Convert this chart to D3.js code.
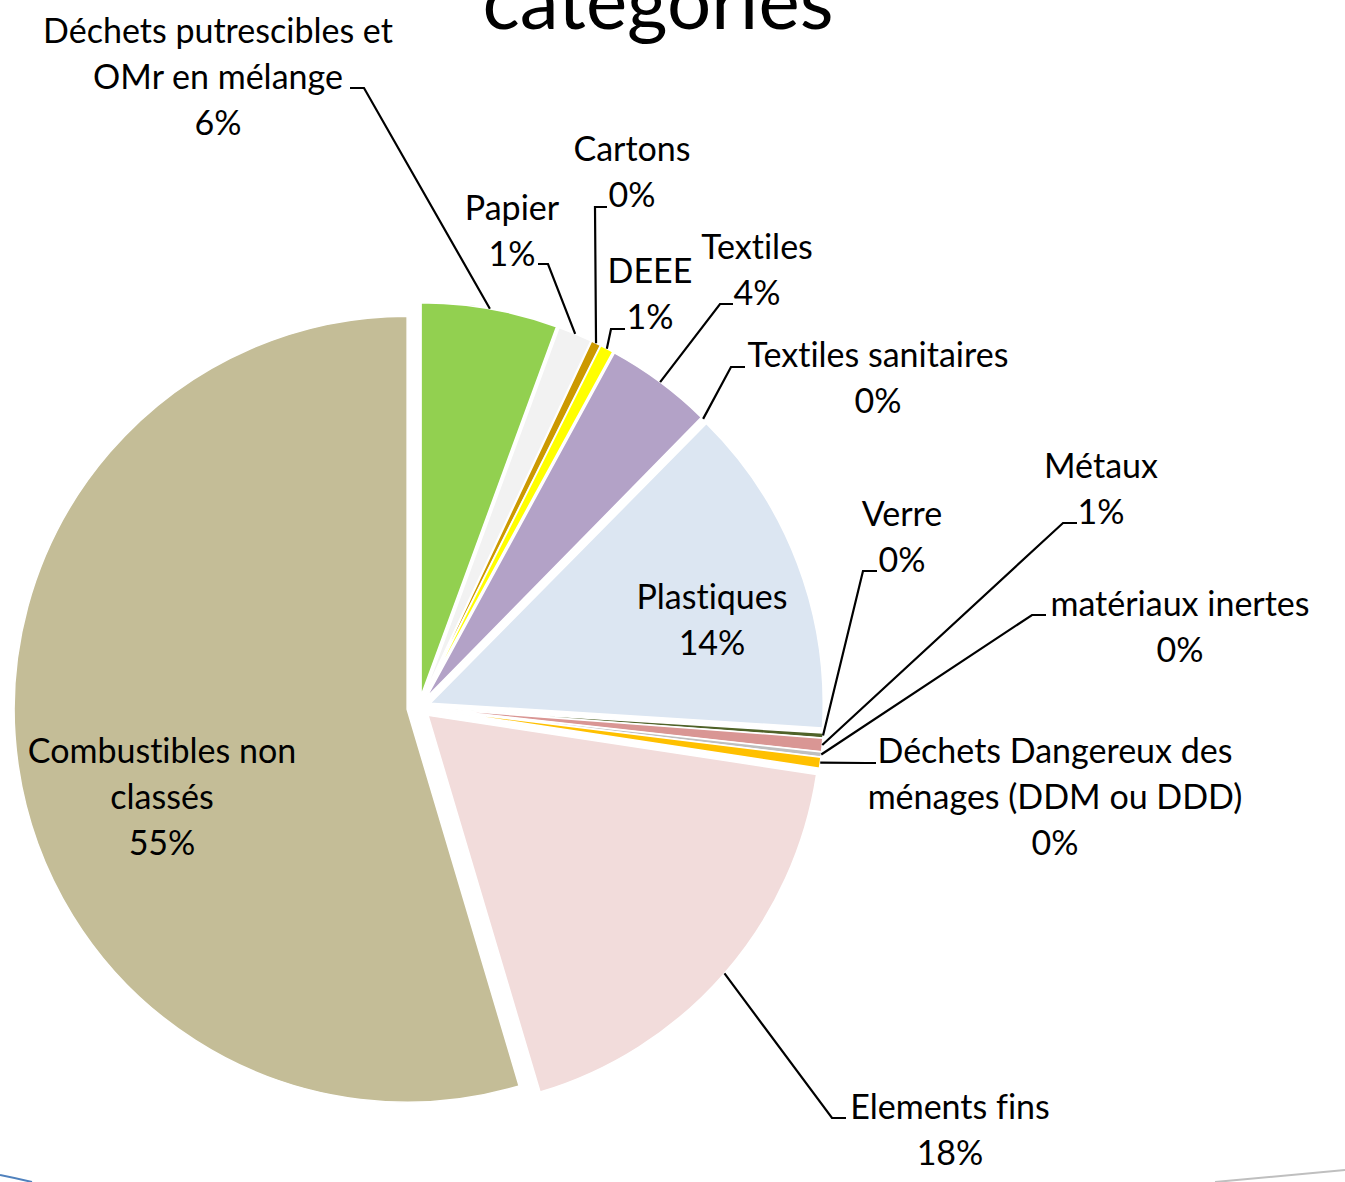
<!DOCTYPE html>
<html><head><meta charset="utf-8">
<script src="https://cdn.jsdelivr.net/npm/d3@7"></script>
<style>body{margin:0;background:#fff}svg{display:block}</style>
</head><body>
<svg id="chart" width="1345" height="1182"></svg>
<script>
// ---- data ----
const categories = [
  "Déchets putrescibles et OMr en mélange", "Papier", "Cartons", "DEEE", "Textiles",
  "Textiles sanitaires", "Plastiques", "Verre", "Métaux", "matériaux inertes",
  "Déchets Dangereux des ménages (DDM ou DDD)", "Elements fins", "Combustibles non classés"
];
const values = [5.6, 1.4, 0.4, 0.55, 4.4, 0.05, 13.6, 0.2, 0.55, 0.2, 0.45, 18.0, 54.6];
const labelLines = [
  ["Déchets putrescibles et", "OMr en mélange"], ["Papier"], ["Cartons"], ["DEEE"], ["Textiles"],
  ["Textiles sanitaires"], ["Plastiques"], ["Verre"], ["Métaux"], ["matériaux inertes"],
  ["Déchets Dangereux des", "ménages (DDM ou DDD)"], ["Elements fins"], ["Combustibles non", "classés"]
];
const titleText = "catégories";

// ---- styles / layout (kept apart from the data) ----
const colors = ["#92D050", "#F2F2F2", "#CC9900", "#FFFF00", "#B3A2C7", "#93CDDD", "#DCE6F2",
                "#4F6228", "#D99694", "#BFBFBF", "#FFC000", "#F2DCDB", "#C4BD97"];
const labelLayout = [
  {x: 218, y: 31, leader: [[350, 88], [364, 88]]},
  {x: 512, y: 208, leader: [[538, 264], [548, 264]]},
  {x: 632, y: 149, leader: [[607, 207], [595, 207]]},
  {x: 650, y: 271, leader: [[625, 329], [611, 329]]},
  {x: 757, y: 247, leader: [[733, 304], [720, 304]]},
  {x: 878, y: 355, leader: [[745, 367], [731, 367]]},
  {x: 712, y: 597, leader: null},
  {x: 902, y: 514, leader: [[877, 571], [863, 571]]},
  {x: 1101, y: 466, leader: [[1077, 523], [1063, 523]]},
  {x: 1180, y: 604, leader: [[1046, 615], [1032, 615]]},
  {x: 1055, y: 751, leader: [[876, 763], [866, 763]]},
  {x: 950, y: 1107, leader: [[846, 1118], [832, 1118]]},
  {x: 162, y: 751, leader: null}
];
const cx = 419, cy = 707.5, radius = 393, explode = 12, lineH = 46;
const FONT = "Lato, 'Noto Sans', sans-serif";
const NOLIG = "font-variant-ligatures: none; font-feature-settings: 'liga' 0, 'clig' 0, 'dlig' 0;";

const svg = d3.select("#chart");

// fit font sizes to the reference widths
function fit(text, target) {
  const t = svg.append("text").attr("font-family", FONT).attr("style", NOLIG)
    .attr("font-size", 100).text(text);
  const w = t.node().getComputedTextLength(); t.remove();
  return 100 * target / w;
}
const labelSize = fit("Déchets putrescibles et", 350);
const titleSize = fit(titleText, 351);

// title (cut at top, as in the reference)
svg.append("text").attr("x", 658).attr("y", 29).attr("text-anchor", "middle")
  .attr("font-family", FONT).attr("style", NOLIG)
  .attr("font-size", titleSize).attr("fill", "#000").text(titleText);

const pie = d3.pie().sort(null).value(d => d)(values);
const arc = d3.arc().innerRadius(0).outerRadius(radius);
const total = d3.sum(values);
const pct = d3.format(".0%");

function offset(d) {
  const m = (d.startAngle + d.endAngle) / 2;
  return [explode * Math.sin(m), -explode * Math.cos(m)];
}

const g = svg.append("g").attr("transform", `translate(${cx},${cy})`);
g.selectAll("path").data(pie).join("path")
  .attr("transform", d => { const o = offset(d); return `translate(${o[0]},${o[1]})`; })
  .attr("d", arc)
  .attr("fill", (d, i) => colors[i])
  .attr("stroke", "#fff").attr("stroke-width", 1.5).attr("stroke-linejoin", "round");

// leader lines
pie.forEach((d, i) => {
  const L = labelLayout[i];
  if (!L.leader) return;
  const m = (d.startAngle + d.endAngle) / 2;
  const o = offset(d);
  const end = [cx + o[0] + radius * Math.sin(m), cy + o[1] - radius * Math.cos(m)];
  const pts = [...L.leader, end];
  svg.append("path").attr("d", d3.line()(pts)).attr("fill", "none")
    .attr("stroke", "#000").attr("stroke-width", 2.2);
});

// labels
pie.forEach((d, i) => {
  const L = labelLayout[i];
  const lines = [...labelLines[i], pct(d.value / total)];
  const t = svg.append("text").attr("font-family", FONT).attr("style", NOLIG)
    .attr("font-size", labelSize).attr("fill", "#000").attr("text-anchor", "middle");
  lines.forEach((s, k) => {
    t.append("tspan").attr("x", L.x).attr("y", L.y + k * lineH).attr("dy", "0.36em").text(s);
  });
});

// slide decorations at the bottom
svg.append("path").attr("d", "M0,1175 Q15,1178 32,1182").attr("fill", "none")
  .attr("stroke", "#4F81BD").attr("stroke-width", 2);
svg.append("path").attr("d", "M1215,1182 L1345,1170").attr("fill", "none")
  .attr("stroke", "#BFBFBF").attr("stroke-width", 2);
</script>
</body></html>
